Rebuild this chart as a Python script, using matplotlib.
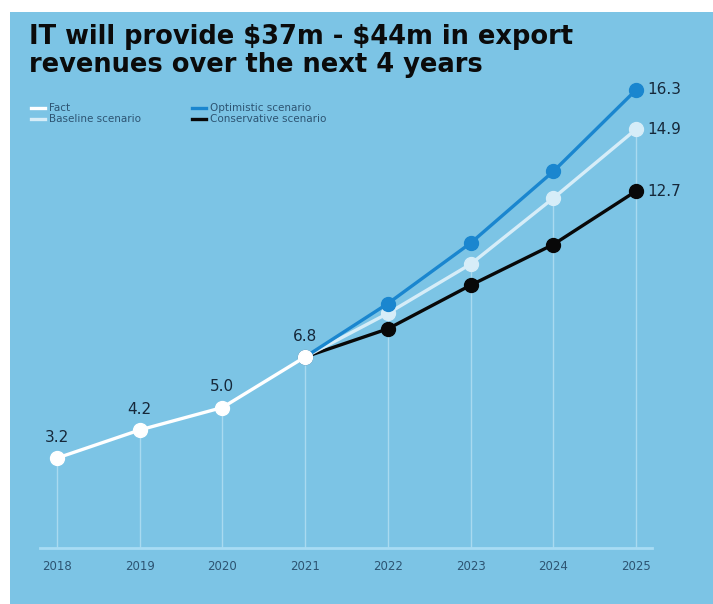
import matplotlib.pyplot as plt
import matplotlib as mpl
import numpy as np
from matplotlib.lines import Line2D
mpl.style.use("default")

# export revenues, $m
years_fact = [2018, 2019, 2020, 2021]
fact = [3.2, 4.2, 5.0, 6.8]
years_fc = [2021, 2022, 2023, 2024, 2025]
optimistic = [6.8, 8.7, 10.85, 13.4, 16.3]
baseline = [6.8, 8.35, 10.1, 12.45, 14.9]
conservative = [6.8, 7.8, 9.35, 10.8, 12.7]
all_years = [2018, 2019, 2020, 2021, 2022, 2023, 2024, 2025]

bg = "#7cc4e5"
c_fact = "#ffffff"
c_base = "#d6edf8"
c_opt = "#1a86cf"
c_cons = "#080808"
c_txt = "#16283a"
c_tick = "#2d5472"

fig = plt.figure(figsize=(7.13, 6.04), dpi=100)
fig.patch.set_facecolor("white")
panel = mpl.patches.Rectangle((10 / 713, 0), 1, 1 - 12 / 604, transform=fig.transFigure,
                              facecolor=bg, edgecolor="none", zorder=-10)
fig.add_artist(panel)

ax = fig.add_axes([40 / 713, 1 - 548 / 604, 612 / 713, 17 * 28.1 / 604])
ax.set_zorder(1)
ax.set_facecolor("none")
ax.set_xlim(2018 - 17 / 82.7, 2025 + 16 / 82.7)
ax.set_ylim(0, 17)
for s in ["top", "right", "left"]:
    ax.spines[s].set_visible(False)
ax.spines["bottom"].set_color("#a8dcf4")
ax.spines["bottom"].set_linewidth(2)
ax.set_yticks([])
ax.set_xticks(all_years)
ax.set_xticklabels([str(y) for y in all_years], fontsize=8.5, color=c_tick)
ax.tick_params(axis="x", length=0, pad=9)

# vertical guides up to the fact / baseline values
guide_top = fact[:-1] + baseline
ax.vlines(all_years, 0, guide_top, color="#c8e9f8", lw=1, alpha=0.6, zorder=1)

ms = 10
lw = 2.4
ax.plot(years_fc, conservative, color=c_cons, lw=lw, marker="o", ms=ms, zorder=3)
ax.plot(years_fc, baseline, color=c_base, lw=lw, marker="o", ms=ms, zorder=4)
ax.plot(years_fc, optimistic, color=c_opt, lw=lw, marker="o", ms=ms, zorder=5)
ax.plot(years_fact, fact, color=c_fact, lw=lw, marker="o", ms=ms, zorder=6)

for x, v in zip(years_fact, fact):
    ax.annotate(f"{v:.1f}", (x, v), xytext=(0, 9.5), textcoords="offset points",
                ha="center", va="bottom", fontsize=11, color=c_txt)
for series in [optimistic, baseline, conservative]:
    ax.annotate(f"{series[-1]:.1f}", (years_fc[-1], series[-1]), xytext=(8, 0),
                textcoords="offset points", ha="left", va="center", fontsize=11, color=c_txt)

fig.text(29 / 713, 1 - 24 / 604, "IT will provide \\$37m - \\$44m in export\nrevenues over the next 4 years",
         ha="left", va="top", fontsize=18.5, fontweight="black", color="#0b0b0b",
         linespacing=1.12, family="DejaVu Sans")

handles1 = [Line2D([], [], color=c_fact, lw=2.4), Line2D([], [], color=c_base, lw=2.4)]
handles2 = [Line2D([], [], color=c_opt, lw=2.4), Line2D([], [], color=c_cons, lw=2.4)]
leg1 = fig.legend(handles1, ["Fact", "Baseline scenario"], loc="upper left",
                  bbox_to_anchor=(22 / 713, 1 - 94 / 604), frameon=False, fontsize=7.5,
                  handlelength=1.3, handletextpad=0.4, labelspacing=0.1, labelcolor=c_tick)
leg2 = fig.legend(handles2, ["Optimistic scenario", "Conservative scenario"], loc="upper left",
                  bbox_to_anchor=(183 / 713, 1 - 94 / 604), frameon=False, fontsize=7.5,
                  handlelength=1.3, handletextpad=0.4, labelspacing=0.1, labelcolor=c_tick)

plt.savefig("out.png", dpi=100)
